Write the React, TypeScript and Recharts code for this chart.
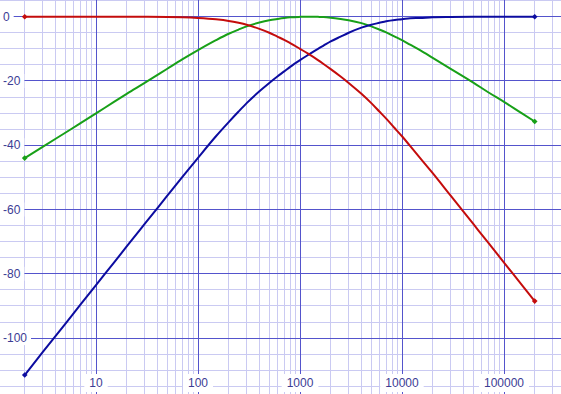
import { LineChart, Line, XAxis, YAxis, ReferenceLine } from 'recharts';

// frequency response of a 3-way split (Hz / dB)
const FREQS = [2, 3, 5, 7, 10, 15, 20, 30, 50, 70, 100, 150, 200, 250, 300, 400, 500, 600, 700, 800, 1000, 1200, 1500, 1700, 2000, 2500, 3000, 4000, 5000, 6000, 7000, 8500, 10000, 12000, 15000, 20000, 30000, 50000, 70000, 100000, 150000, 200000];
const LOWPASS = [0, 0, 0, 0, 0, 0, 0, -0.03, -0.1, -0.2, -0.4, -0.8, -1.3, -1.9, -2.5, -3.8, -5.0, -6.2, -7.2, -8.2, -10.0, -11.5, -13.5, -14.7, -16.3, -18.6, -20.6, -24.0, -26.9, -29.5, -31.7, -34.7, -37.2, -40.2, -43.9, -48.7, -55.7, -64.5, -70.3, -76.5, -83.5, -88.5];
const BANDPASS = [-44.0, -40.5, -36.1, -33.2, -30.1, -26.5, -24.0, -20.6, -16.2, -13.3, -10.4, -7.3, -5.3, -4.0, -3.0, -1.8, -1.1, -0.7, -0.4, -0.2, -0.05, 0, -0.05, -0.1, -0.3, -0.7, -1.1, -2.0, -3.0, -4.0, -4.9, -6.2, -7.3, -8.7, -10.4, -12.8, -16.2, -20.5, -23.5, -26.5, -30.1, -32.6];
const HIGHPASS = [-111.5, -104.4, -95.6, -89.7, -83.5, -76.5, -71.5, -64.5, -55.7, -49.9, -43.9, -37.2, -32.8, -29.5, -26.9, -23.2, -20.6, -18.6, -17.0, -15.6, -13.5, -11.9, -10.0, -9.0, -7.7, -6.2, -5.0, -3.4, -2.5, -1.9, -1.4, -1.0, -0.8, -0.5, -0.4, -0.2, -0.1, -0.03, -0.02, 0, 0, 0];

const X_TICKS = [10, 100, 1000, 10000, 100000];
const Y_TICKS = [0, -20, -40, -60, -80, -100];
const DECADES = [1, 10, 100, 1000, 10000, 100000];
const STEPS = [2, 3, 4, 5, 6, 7, 8, 9];
const Y_MINOR = [5, -5, -10, -15, -25, -30, -35, -45, -50, -55, -65, -70, -75, -85, -90, -95, -105, -110, -115];

const X_DOMAIN = [1.145, 362000];
const Y_DOMAIN = [-117.4, 5.2];

const MAJOR = '#5454cc';
const MINOR = '#cacaf2';
const LABEL = '#3c3c94';
const FONT = '"Liberation Sans", Arial, sans-serif';

const rows = FREQS.map((f, i) => ({ f, lp: LOWPASS[i], bp: BANDPASS[i], hp: HIGHPASS[i] }));
const xMinor = DECADES.flatMap((d) => STEPS.map((s) => d * s)).filter((v) => v > X_DOMAIN[0] && v < X_DOMAIN[1]);

const textW = (s: string) => s.replace('-', '').length * 6.67 + (s.startsWith('-') ? 4 : 0);

function XTick(props: any) {
  const { x, payload } = props;
  const s = String(payload.value);
  const w = textW(s) + 10;
  return (
    <g>
      <rect x={x - w / 2} y={374} width={w} height={18} fill="#fff" />
      <text x={x} y={387} textAnchor="middle" fill={LABEL} fontSize={12} fontFamily={FONT}>{s}</text>
    </g>
  );
}

function YTick(props: any) {
  const { y, payload } = props;
  const s = String(payload.value);
  const w = textW(s) + 7;
  return (
    <g>
      <rect x={0} y={y - 7} width={w} height={14} fill="#fff" />
      <text x={3} y={y + 4} textAnchor="start" fill={LABEL} fontSize={12} fontFamily={FONT}>{s}</text>
    </g>
  );
}

const endDot = (color: string) => (p: any) => {
  if (p.index !== 0 && p.index !== FREQS.length - 1) return <g key={`d${p.index}`} />;
  return <rect key={`d${p.index}`} x={p.cx - 2} y={p.cy - 2} width={4} height={4} fill={color} transform={`rotate(45 ${p.cx} ${p.cy})`} />;
};

export default function App() {
  return (
    <div style={{ position: 'absolute', left: 0, top: 0, width: 561, height: 394, background: '#fff' }}>
      <LineChart width={561} height={394} data={rows} margin={{ top: 0, right: 0, bottom: 0, left: 0 }}>
        {xMinor.map((v) => (
          <ReferenceLine key={`xm${v}`} x={v} stroke={MINOR} strokeWidth={1} shapeRendering="crispEdges" />
        ))}
        {Y_MINOR.map((v) => (
          <ReferenceLine key={`ym${v}`} y={v} stroke={MINOR} strokeWidth={1} shapeRendering="crispEdges" />
        ))}
        {X_TICKS.map((v) => (
          <ReferenceLine key={`xM${v}`} x={v} stroke={MAJOR} strokeWidth={1} shapeRendering="crispEdges" />
        ))}
        {Y_TICKS.map((v) => (
          <ReferenceLine key={`yM${v}`} y={v} stroke={MAJOR} strokeWidth={1} shapeRendering="crispEdges" />
        ))}
        <Line dataKey="bp" type="monotone" stroke="#18a018" strokeWidth={2} dot={endDot('#18a018')} activeDot={false} isAnimationActive={false} />
        <Line dataKey="hp" type="monotone" stroke="#0c0ca0" strokeWidth={2} dot={endDot('#0c0ca0')} activeDot={false} isAnimationActive={false} />
        <Line dataKey="lp" type="monotone" stroke="#c40c0c" strokeWidth={2} dot={endDot('#c40c0c')} activeDot={false} isAnimationActive={false} />
        <XAxis dataKey="f" type="number" scale="log" domain={X_DOMAIN} allowDataOverflow ticks={X_TICKS} mirror axisLine={false} tickLine={false} tick={<XTick />} interval={0} />
        <YAxis type="number" domain={Y_DOMAIN} allowDataOverflow ticks={Y_TICKS} mirror axisLine={false} tickLine={false} tick={<YTick />} interval={0} />
      </LineChart>
    </div>
  );
}
